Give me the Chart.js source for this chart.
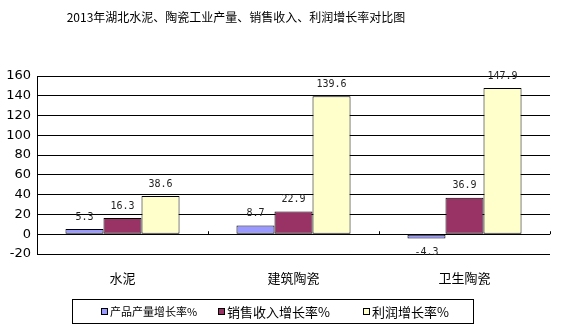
<!DOCTYPE html>
<html>
<head>
<meta charset="utf-8">
<script src="https://cdn.jsdelivr.net/npm/chart.js@4/dist/chart.umd.min.js"></script>
<style>
  html, body { margin: 0; padding: 0; background: #fff; }
  #wrap { width: 566px; height: 329px; }
</style>
</head>
<body>
<div id="wrap"><canvas id="c" width="566" height="329"></canvas></div>
<script>
const categories = ['水泥', '建筑陶瓷', '卫生陶瓷'];
const seriesNames = ['产品产量增长率%', '销售收入增长率%', '利润增长率%'];
const outputGrowth = [5.3, 8.7, -4.3];
const salesGrowth = [16.3, 22.9, 36.9];
const profitGrowth = [38.6, 139.6, 147.9];
const seriesColors = ['#9999FF', '#993366', '#FFFFCC'];
const titleText = '2013年湖北水泥、陶瓷工业产量、销售收入、利润增长率对比图';

const cjk = '"Noto Sans CJK SC", "DejaVu Sans", sans-serif';

// value labels, title, legend box and the small ticks on the zero line
const extrasPlugin = {
  id: 'extras',
  afterDatasetsDraw(chart) {
    const ctx = chart.ctx;
    const area = chart.chartArea;
    const yScale = chart.scales.y;
    ctx.save();

    // small ticks on the zero line between categories
    const y0 = yScale.getPixelForValue(0);
    ctx.strokeStyle = '#000';
    ctx.lineWidth = 1;
    for (let i = 0; i <= categories.length; i++) {
      const x = Math.round(area.left + (area.right - area.left) * i / categories.length) + 0.5;
      ctx.beginPath();
      ctx.moveTo(x, y0);
      ctx.lineTo(x, y0 - 3);
      ctx.stroke();
    }

    // value labels
    ctx.font = '10px "DejaVu Sans Mono", monospace';
    ctx.fillStyle = '#222';
    ctx.textAlign = 'center';
    ctx.textBaseline = 'middle';
    chart.data.datasets.forEach((ds, di) => {
      const meta = chart.getDatasetMeta(di);
      meta.data.forEach((bar, i) => {
        const v = ds.data[i];
        const y = v >= 0 ? bar.y - 12 : bar.y + 14;
        ctx.fillText(v.toFixed(1), bar.x, y);
      });
    });

    // title
    ctx.font = '12px ' + cjk;
    ctx.fillStyle = '#000';
    ctx.fillText(titleText, 236, 17);

    // legend
    ctx.strokeStyle = '#000';
    ctx.strokeRect(72.5, 299.5, 401, 24);
    const legendX = [101, 218, 363];
    const legendFont = ['11px ' + cjk, '13px ' + cjk, '13px ' + cjk];
    ctx.textAlign = 'left';
    seriesNames.forEach((name, i) => {
      ctx.fillStyle = seriesColors[i];
      ctx.fillRect(legendX[i], 308, 6, 6);
      ctx.strokeStyle = '#000';
      ctx.strokeRect(legendX[i] + 0.5, 308.5, 6, 6);
      ctx.fillStyle = '#000';
      ctx.font = legendFont[i];
      ctx.fillText(name, legendX[i] + 9, 312);
    });

    ctx.restore();
  }
};

new Chart(document.getElementById('c'), {
  type: 'bar',
  data: {
    labels: categories,
    datasets: [
      { label: seriesNames[0], data: outputGrowth, backgroundColor: seriesColors[0] },
      { label: seriesNames[1], data: salesGrowth, backgroundColor: seriesColors[1] },
      { label: seriesNames[2], data: profitGrowth, backgroundColor: seriesColors[2] }
    ].map(d => Object.assign(d, {
      borderColor: '#000',
      borderWidth: 1,
      borderSkipped: false,
      categoryPercentage: 0.667,
      barPercentage: 1
    }))
  },
  options: {
    responsive: false,
    animation: false,
    events: [],
    layout: { padding: { top: 76, right: 16, left: 0, bottom: 0 } },
    plugins: {
      legend: { display: false },
      title: { display: false },
      tooltip: { enabled: false }
    },
    scales: {
      x: {
        grid: { display: false },
        border: { display: false },
        ticks: { color: '#000', font: { family: cjk, size: 13 }, padding: 8 },
        afterFit(scale) { scale.height = 75; }
      },
      y: {
        min: -20,
        max: 160,
        ticks: { stepSize: 20, color: '#000', font: { family: '"DejaVu Sans", sans-serif', size: 13 }, padding: 6 },
        grid: { color: '#000', drawTicks: false },
        border: { display: true, color: '#000' },
        afterFit(scale) { scale.width = 37; }
      }
    }
  },
  plugins: [extrasPlugin]
});
</script>
</body>
</html>
